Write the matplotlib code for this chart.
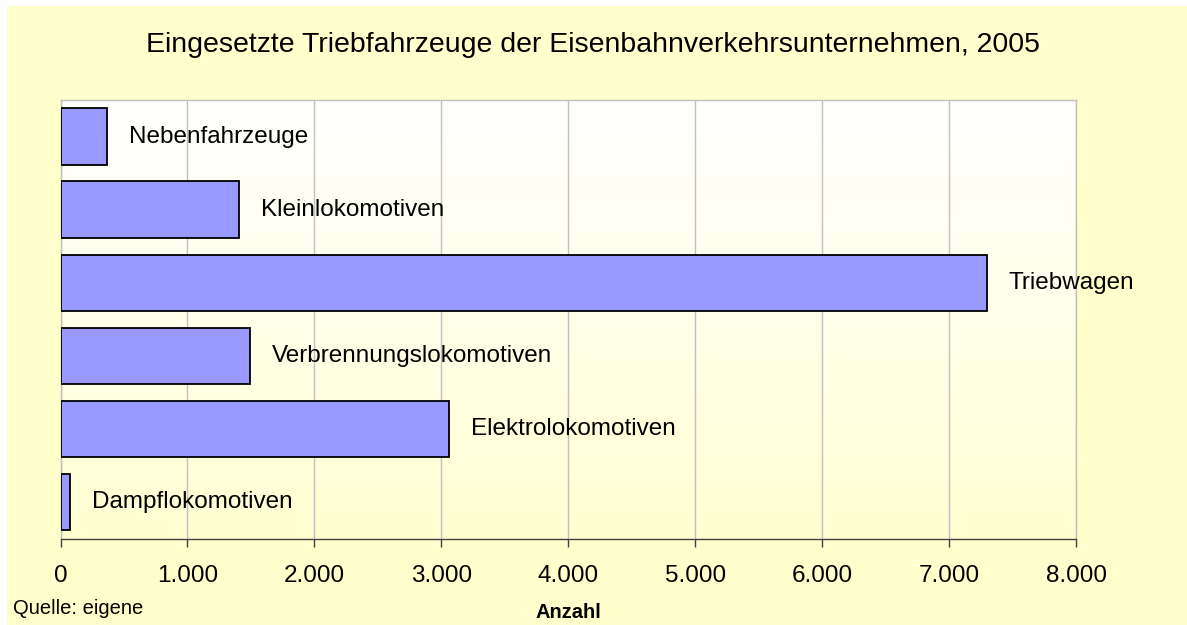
import numpy as np
import matplotlib
matplotlib.use("Agg")
import matplotlib.pyplot as plt
from matplotlib.colors import LinearSegmentedColormap
from matplotlib.patches import Rectangle
from matplotlib.ticker import FuncFormatter, MultipleLocator

plt.rcParams['font.family'] = ['Liberation Sans', 'DejaVu Sans']

# data (top to bottom as in the chart)
kategorien = ["Nebenfahrzeuge", "Kleinlokomotiven", "Triebwagen",
              "Verbrennungslokomotiven", "Elektrolokomotiven", "Dampflokomotiven"]
anzahl = [364, 1405, 7295, 1490, 3059, 72]
titel = "Eingesetzte Triebfahrzeuge der Eisenbahnverkehrsunternehmen, 2005"

W, H = 1187, 625
fig = plt.figure(figsize=(W / 100, H / 100), dpi=100, facecolor="white")

# yellow chart area with small white margin top/left
fig.patches.append(Rectangle((7 / W, 0), 1 - 7 / W, 1 - 6 / H, transform=fig.transFigure,
                             facecolor="#FFFFCC", edgecolor="none", zorder=-10))

left, right = 60.5 / W, 1076 / W
top, bottom = 1 - 100 / H, 1 - 538.5 / H
ax = fig.add_axes([left, bottom, right - left, top - bottom])
ax.set_facecolor("none")

# plot area gradient white (top) -> light yellow (bottom)
cmap = LinearSegmentedColormap.from_list("bg", ["#FFFFD2", "#FFFFFF"])
grad = np.linspace(0, 1, 256).reshape(-1, 1)
ax.imshow(grad, extent=[0, 1, 0, 1], transform=ax.transAxes, aspect="auto",
          cmap=cmap, origin="lower", zorder=0)

y = np.arange(len(kategorien))
ax.barh(y, anzahl, height=0.77, color="#9999FF", edgecolor="black", linewidth=1.3, zorder=3)

for yi, v, name in zip(y, anzahl, kategorien):
    ax.annotate(name, (v, yi), xytext=(16, 0), textcoords="offset points",
                va="center", ha="left", fontsize=17.5, color="black", zorder=4)

ax.set_xlim(0, 8000)
ax.set_ylim(len(kategorien) - 0.5, -0.5)
ax.xaxis.set_major_locator(MultipleLocator(1000))
ax.xaxis.set_major_formatter(FuncFormatter(lambda v, p: f"{v:,.0f}".replace(",", ".")))
ax.set_yticks([])

ax.grid(axis="x", color="#C0C0C0", linewidth=1, zorder=1)
ax.set_axisbelow(True)
for s in ["top", "right", "left"]:
    ax.spines[s].set_color("#C0C0C0")
    ax.spines[s].set_linewidth(1)
ax.spines["bottom"].set_color("#404040")
ax.spines["bottom"].set_linewidth(1)
ax.tick_params(axis="x", direction="out", length=6, width=1, color="#404040",
               labelsize=17.5, pad=13)

fig.text(0.5, 1 - 45 / H, titel, ha="center", va="center", fontsize=20.5)
fig.text((60.5 + 1076) / 2 / W, 1 - 612 / H, "Anzahl", ha="center", va="center",
         fontsize=14.5, fontweight="bold")
fig.text(13 / W, 1 - 608 / H, "Quelle: eigene", ha="left", va="center", fontsize=14.5)

fig.savefig("out.png", dpi=100, facecolor=fig.get_facecolor())
